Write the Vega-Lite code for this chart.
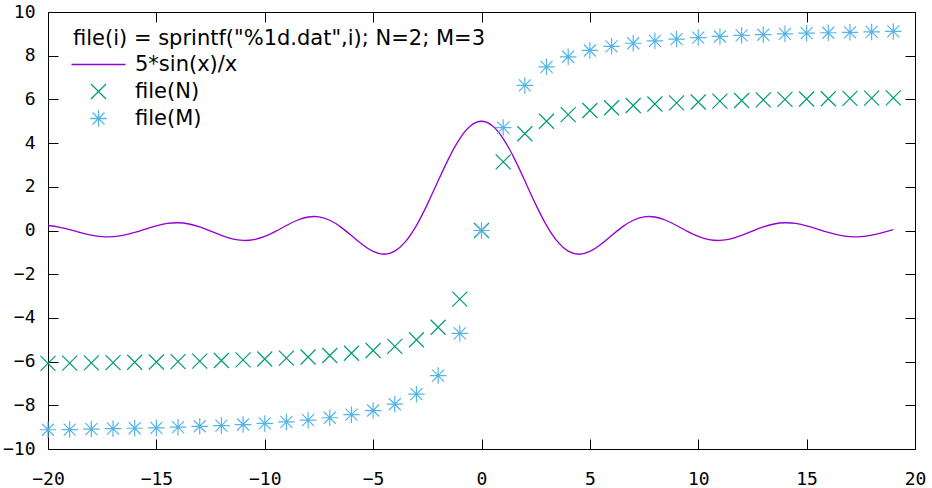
{
  "$schema": "https://vega.github.io/schema/vega-lite/v6.json",
  "width": 867,
  "height": 437,
  "autosize": {"type": "none"},
  "padding": {"left": 48, "top": 12, "right": 17, "bottom": 39},
  "background": "white",
  "config": {
    "view": {"stroke": "black", "strokeWidth": 1},
    "axis": {
      "grid": false,
      "domain": false,
      "tickColor": "black",
      "tickWidth": 1,
      "tickSize": -10,
      "labelFont": "DejaVu Sans Mono",
      "labelFontSize": 18,
      "labelColor": "black",
      "labelFlush": false,
      "labelOverlap": false,
      "title": null
    }
  },
  "layer": [
    {
      "data": {"values": [
        {"x": -20, "y": 0.2282}, {"x": -19.5, "y": 0.1553}, {"x": -19, "y": 0.0394}, {"x": -18.5, "y": -0.0926},
        {"x": -18, "y": -0.2086}, {"x": -17.5, "y": -0.2790}, {"x": -17, "y": -0.2828}, {"x": -16.5, "y": -0.2159},
        {"x": -16, "y": -0.0900}, {"x": -15.5, "y": 0.0666}, {"x": -15, "y": 0.2168}, {"x": -14.5, "y": 0.3224},
        {"x": -14, "y": 0.3538}, {"x": -13.5, "y": 0.2977}, {"x": -13, "y": 0.1616}, {"x": -12.5, "y": -0.0265},
        {"x": -12, "y": -0.2236}, {"x": -11.5, "y": -0.3807}, {"x": -11, "y": -0.4545}, {"x": -10.5, "y": -0.4189},
        {"x": -10, "y": -0.2720}, {"x": -9.5, "y": -0.0396}, {"x": -9, "y": 0.2290}, {"x": -8.5, "y": 0.4697},
        {"x": -8, "y": 0.6184}, {"x": -7.5, "y": 0.6253}, {"x": -7, "y": 0.4693}, {"x": -6.5, "y": 0.1655},
        {"x": -6, "y": -0.2328}, {"x": -5.5, "y": -0.6414}, {"x": -5, "y": -0.9589}, {"x": -4.5, "y": -1.0861},
        {"x": -4, "y": -0.9460}, {"x": -3.5, "y": -0.5011}, {"x": -3, "y": 0.2352}, {"x": -2.5, "y": 1.1969},
        {"x": -2, "y": 2.2732}, {"x": -1.5, "y": 3.3250}, {"x": -1, "y": 4.2074}, {"x": -0.5, "y": 4.7943},
        {"x": 0, "y": 5.0},
        {"x": 0.5, "y": 4.7943}, {"x": 1, "y": 4.2074}, {"x": 1.5, "y": 3.3250}, {"x": 2, "y": 2.2732},
        {"x": 2.5, "y": 1.1969}, {"x": 3, "y": 0.2352}, {"x": 3.5, "y": -0.5011}, {"x": 4, "y": -0.9460},
        {"x": 4.5, "y": -1.0861}, {"x": 5, "y": -0.9589}, {"x": 5.5, "y": -0.6414}, {"x": 6, "y": -0.2328},
        {"x": 6.5, "y": 0.1655}, {"x": 7, "y": 0.4693}, {"x": 7.5, "y": 0.6253}, {"x": 8, "y": 0.6184},
        {"x": 8.5, "y": 0.4697}, {"x": 9, "y": 0.2290}, {"x": 9.5, "y": -0.0396}, {"x": 10, "y": -0.2720},
        {"x": 10.5, "y": -0.4189}, {"x": 11, "y": -0.4545}, {"x": 11.5, "y": -0.3807}, {"x": 12, "y": -0.2236},
        {"x": 12.5, "y": -0.0265}, {"x": 13, "y": 0.1616}, {"x": 13.5, "y": 0.2977}, {"x": 14, "y": 0.3538},
        {"x": 14.5, "y": 0.3224}, {"x": 15, "y": 0.2168}, {"x": 15.5, "y": 0.0666}, {"x": 16, "y": -0.0900},
        {"x": 16.5, "y": -0.2159}, {"x": 17, "y": -0.2828}, {"x": 17.5, "y": -0.2790}, {"x": 18, "y": -0.2086},
        {"x": 18.5, "y": -0.0926}, {"x": 19, "y": 0.0394}
      ]},
      "mark": {"type": "line", "interpolate": "natural", "strokeWidth": 1.3, "clip": true},
      "encoding": {
        "x": {"field": "x", "type": "quantitative",
              "scale": {"domain": [-20, 20], "nice": false, "zero": false},
              "axis": {"orient": "bottom", "values": [-20, -15, -10, -5, 0, 5, 10, 15, 20], "labelPadding": 31}},
        "y": {"field": "y", "type": "quantitative",
              "scale": {"domain": [-10, 10], "nice": false, "zero": false},
              "axis": {"orient": "left", "values": [-10, -8, -6, -4, -2, 0, 2, 4, 6, 8, 10], "labelPadding": 23}},
        "color": {"datum": "5*sin(x)/x", "type": "nominal",
                  "scale": {"domain": ["5*sin(x)/x", "file(N)", "file(M)"], "range": ["#9400d3", "#009e73", "#56b4e9"]},
                  "legend": {
                    "orient": "none", "legendX": 25, "legendY": 16, "padding": 0,
                    "title": "file(i) = sprintf(\"%1d.dat\",i); N=2; M=3", "titleLimit": 700,
                    "titleFont": "DejaVu Sans", "titleFontSize": 21, "titleFontWeight": "normal", "titleColor": "black",
                    "titlePadding": 5,
                    "labelFont": "DejaVu Sans", "labelFontSize": 21, "labelColor": "black",
                    "symbolSize": 225, "symbolStrokeWidth": 1.3, "symbolFillColor": "transparent",
                    "symbolOffset": 15, "labelOffset": 26, "rowPadding": 5
                  }}
      }
    },
    {
      "data": {"values": [
        {"x": -20, "y": -6.08, "s": "file(N)"}, {"x": -19, "y": -6.07, "s": "file(N)"}, {"x": -18, "y": -6.06, "s": "file(N)"},
        {"x": -17, "y": -6.05, "s": "file(N)"}, {"x": -16, "y": -6.03, "s": "file(N)"}, {"x": -15, "y": -6.02, "s": "file(N)"},
        {"x": -14, "y": -6.00, "s": "file(N)"}, {"x": -13, "y": -5.98, "s": "file(N)"}, {"x": -12, "y": -5.95, "s": "file(N)"},
        {"x": -11, "y": -5.92, "s": "file(N)"}, {"x": -10, "y": -5.88, "s": "file(N)"}, {"x": -9, "y": -5.84, "s": "file(N)"},
        {"x": -8, "y": -5.79, "s": "file(N)"}, {"x": -7, "y": -5.72, "s": "file(N)"}, {"x": -6, "y": -5.62, "s": "file(N)"},
        {"x": -5, "y": -5.49, "s": "file(N)"}, {"x": -4, "y": -5.30, "s": "file(N)"}, {"x": -3, "y": -5.00, "s": "file(N)"},
        {"x": -2, "y": -4.43, "s": "file(N)"}, {"x": -1, "y": -3.14, "s": "file(N)"}, {"x": 0, "y": 0, "s": "file(N)"},
        {"x": 1, "y": 3.14, "s": "file(N)"}, {"x": 2, "y": 4.43, "s": "file(N)"}, {"x": 3, "y": 5.00, "s": "file(N)"},
        {"x": 4, "y": 5.30, "s": "file(N)"}, {"x": 5, "y": 5.49, "s": "file(N)"}, {"x": 6, "y": 5.62, "s": "file(N)"},
        {"x": 7, "y": 5.72, "s": "file(N)"}, {"x": 8, "y": 5.79, "s": "file(N)"}, {"x": 9, "y": 5.84, "s": "file(N)"},
        {"x": 10, "y": 5.88, "s": "file(N)"}, {"x": 11, "y": 5.92, "s": "file(N)"}, {"x": 12, "y": 5.95, "s": "file(N)"},
        {"x": 13, "y": 5.98, "s": "file(N)"}, {"x": 14, "y": 6.00, "s": "file(N)"}, {"x": 15, "y": 6.02, "s": "file(N)"},
        {"x": 16, "y": 6.03, "s": "file(N)"}, {"x": 17, "y": 6.05, "s": "file(N)"}, {"x": 18, "y": 6.06, "s": "file(N)"},
        {"x": 19, "y": 6.07, "s": "file(N)"},
        {"x": -20, "y": -9.12, "s": "file(M)"}, {"x": -19, "y": -9.11, "s": "file(M)"}, {"x": -18, "y": -9.09, "s": "file(M)"},
        {"x": -17, "y": -9.07, "s": "file(M)"}, {"x": -16, "y": -9.05, "s": "file(M)"}, {"x": -15, "y": -9.03, "s": "file(M)"},
        {"x": -14, "y": -9.00, "s": "file(M)"}, {"x": -13, "y": -8.96, "s": "file(M)"}, {"x": -12, "y": -8.93, "s": "file(M)"},
        {"x": -11, "y": -8.88, "s": "file(M)"}, {"x": -10, "y": -8.83, "s": "file(M)"}, {"x": -9, "y": -8.76, "s": "file(M)"},
        {"x": -8, "y": -8.68, "s": "file(M)"}, {"x": -7, "y": -8.57, "s": "file(M)"}, {"x": -6, "y": -8.43, "s": "file(M)"},
        {"x": -5, "y": -8.24, "s": "file(M)"}, {"x": -4, "y": -7.95, "s": "file(M)"}, {"x": -3, "y": -7.49, "s": "file(M)"},
        {"x": -2, "y": -6.64, "s": "file(M)"}, {"x": -1, "y": -4.71, "s": "file(M)"}, {"x": 0, "y": 0, "s": "file(M)"},
        {"x": 1, "y": 4.71, "s": "file(M)"}, {"x": 2, "y": 6.64, "s": "file(M)"}, {"x": 3, "y": 7.49, "s": "file(M)"},
        {"x": 4, "y": 7.95, "s": "file(M)"}, {"x": 5, "y": 8.24, "s": "file(M)"}, {"x": 6, "y": 8.43, "s": "file(M)"},
        {"x": 7, "y": 8.57, "s": "file(M)"}, {"x": 8, "y": 8.68, "s": "file(M)"}, {"x": 9, "y": 8.76, "s": "file(M)"},
        {"x": 10, "y": 8.83, "s": "file(M)"}, {"x": 11, "y": 8.88, "s": "file(M)"}, {"x": 12, "y": 8.93, "s": "file(M)"},
        {"x": 13, "y": 8.96, "s": "file(M)"}, {"x": 14, "y": 9.00, "s": "file(M)"}, {"x": 15, "y": 9.03, "s": "file(M)"},
        {"x": 16, "y": 9.05, "s": "file(M)"}, {"x": 17, "y": 9.07, "s": "file(M)"}, {"x": 18, "y": 9.09, "s": "file(M)"},
        {"x": 19, "y": 9.11, "s": "file(M)"}
      ]},
      "mark": {"type": "point", "filled": false, "opacity": 1, "strokeWidth": 1.2, "size": 225},
      "encoding": {
        "x": {"field": "x", "type": "quantitative",
              "axis": {"orient": "top", "labels": false, "values": [-20, -15, -10, -5, 0, 5, 10, 15, 20]}},
        "y": {"field": "y", "type": "quantitative",
              "axis": {"orient": "right", "labels": false, "values": [-10, -8, -6, -4, -2, 0, 2, 4, 6, 8, 10]}},
        "color": {"field": "s", "type": "nominal"},
        "shape": {"field": "s", "type": "nominal",
                  "scale": {"domain": ["5*sin(x)/x", "file(N)", "file(M)"],
                            "range": ["M-3.6,0L3.6,0", "M-1,-1L1,1M-1,1L1,-1", "M-1.1,0L1.1,0M0,-1.1L0,1.1M-0.8,-0.8L0.8,0.8M-0.8,0.8L0.8,-0.8"]},
                  "legend": {
                    "orient": "none", "legendX": 25, "legendY": 16, "padding": 0,
                    "title": "file(i) = sprintf(\"%1d.dat\",i); N=2; M=3", "titleLimit": 700,
                    "titleFont": "DejaVu Sans", "titleFontSize": 21, "titleFontWeight": "normal", "titleColor": "black",
                    "titlePadding": 5,
                    "labelFont": "DejaVu Sans", "labelFontSize": 21, "labelColor": "black",
                    "symbolSize": 225, "symbolStrokeWidth": 1.3, "symbolFillColor": "transparent",
                    "symbolOffset": 15, "labelOffset": 26, "rowPadding": 5
                  }}
      }
    }
  ]
}
